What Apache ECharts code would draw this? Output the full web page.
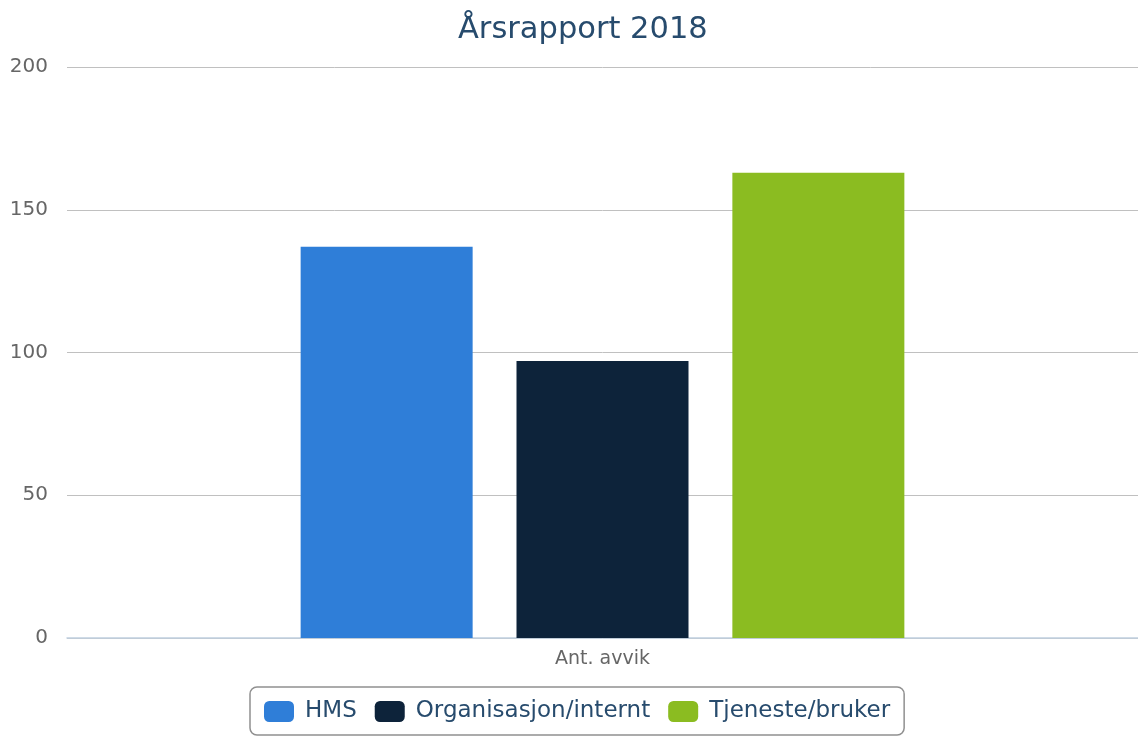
<!DOCTYPE html>
<html><head><meta charset="utf-8">
<script src="https://cdn.jsdelivr.net/npm/echarts@6/dist/echarts.min.js"></script>
<style>html,body{margin:0;padding:0;background:#fff}#c{width:1138px;height:736px}</style>
</head><body><div id="c"></div>
<script>
const categories = ['Ant. avvik'];
const seriesNames = ['HMS', 'Organisasjon/internt', 'Tjeneste/bruker'];
const seriesValues = [[137], [97], [163]];
const colors = ['#2f7ed8', '#0d233a', '#8bbc21'];
const yTicks = [0, 50, 100, 150, 200];
const FONT = 'DejaVu Sans';
const chart = echarts.init(document.getElementById('c'), null, {renderer: 'canvas'});
chart.setOption({
  animation: false,
  color: colors,
  title: {text: 'Årsrapport 2018', left: 453, top: 10,
    textStyle: {fontFamily: FONT, fontSize: 30.5, fontWeight: 'normal', color: '#274b6d'}},
  grid: {left: 67, right: 0, top: 67, bottom: 98, containLabel: false},
  legend: {bottom: 1, left: 250, itemWidth: 30, itemHeight: 21, itemGap: 18,
    padding: [13, 14, 12, 14], borderColor: '#909090', borderWidth: 1.5, borderRadius: 7,
    icon: 'roundRect',
    textStyle: {fontFamily: FONT, fontSize: 23, color: '#274b6d', padding: [0, 0, 0, 6]}},
  xAxis: {type: 'category', data: categories,
    axisLine: {lineStyle: {color: '#c0d0e0', width: 1.5}},
    axisTick: {show: false},
    axisLabel: {fontFamily: FONT, fontSize: 19, color: '#666', margin: 12}},
  yAxis: {type: 'value', min: yTicks[0], max: yTicks[yTicks.length-1], interval: 50,
    axisLine: {show: false}, axisTick: {show: false},
    splitLine: {lineStyle: {color: '#c0c0c0', width: 1}},
    axisLabel: {fontFamily: FONT, fontSize: 20, color: '#666', margin: 19}},
  series: seriesNames.map((n, i) => ({
    name: n, type: 'bar', data: seriesValues[i], barWidth: 172, barGap: '25.5%',
    itemStyle: {color: colors[i]}
  }))
});
</script></body></html>
